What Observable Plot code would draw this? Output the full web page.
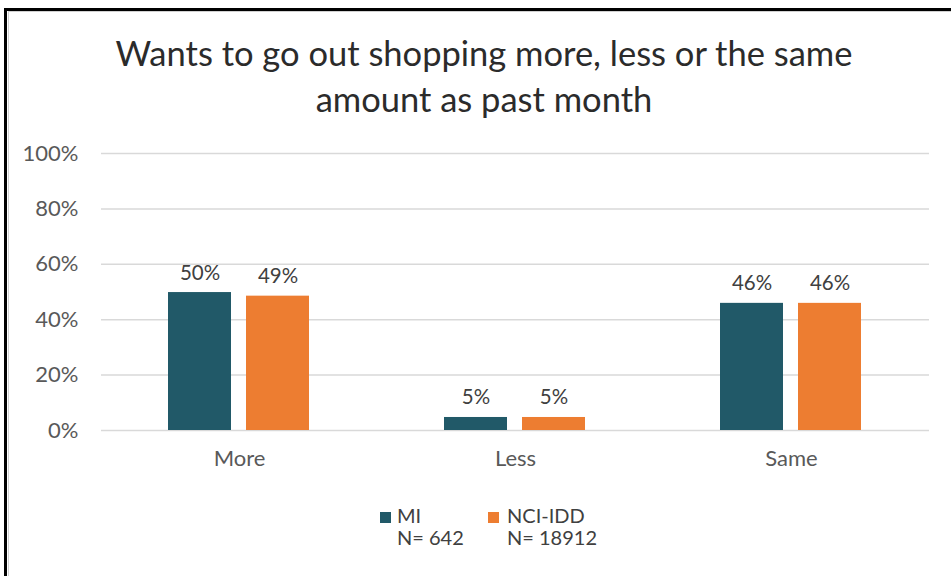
<!DOCTYPE html>
<html>
<head>
<meta charset="utf-8">
<script src="https://cdn.jsdelivr.net/npm/d3@7"></script>
<script src="https://cdn.jsdelivr.net/npm/@observablehq/plot@0.6"></script>
<style>
  html, body { margin: 0; padding: 0; background: #fff; width: 951px; height: 576px; overflow: hidden; }
  body { position: relative; font-family: Lato, "Noto Sans", sans-serif; }
  #frame-black { position: absolute; left: 4px; top: 8px; width: 960px; height: 580px; border-left: 3px solid #000; border-top: 3px solid #000; }
  #frame-gray { position: absolute; left: 8px; top: 11px; width: 960px; height: 580px; border-left: 1.5px solid #d0d0d0; border-top: 1.5px solid #d0d0d0; }
  #title { position: absolute; left: 0; top: 29.5px; width: 968px; text-align: center; font-size: 34.5px; line-height: 46px; color: #2b2b2b; }
  #chart { position: absolute; left: 0; top: 130px; }
  .leg { position: absolute; top: 504px; font-size: 20px; line-height: 22px; color: #404040; }
  .sw { position: absolute; top: 8px; width: 11px; height: 11px; }
  .lt { position: absolute; white-space: pre; }
</style>
</head>
<body>
<div id="frame-black"></div>
<div id="frame-gray"></div>
<div id="title"></div>
<div id="chart"></div>
<div id="legend"></div>
<script>
const titleLines = ["Wants to go out shopping more, less or the same", "amount as past month"];
const categories = ["More", "Less", "Same"];
const series = ["MI", "NCI-IDD"];
const seriesN = ["N= 642", "N= 18912"];
const seriesColors = ["#215968", "#ED7D31"];
const valuesMI = [49.8, 4.7, 45.9];
const valuesNCI = [48.5, 4.7, 45.9];
const yTicks = [0, 20, 40, 60, 80, 100];

const rows = [];
categories.forEach((c, i) => {
  rows.push({category: c, series: series[0], value: valuesMI[i]});
  rows.push({category: c, series: series[1], value: valuesNCI[i]});
});

document.getElementById("title").innerHTML = titleLines.join("<br>");

const chart = Plot.plot({
  width: 951,
  height: 370,
  marginTop: 23,
  marginBottom: 70,
  marginLeft: 100,
  marginRight: 21,
  style: {fontFamily: "Lato, 'Noto Sans', sans-serif", fontSize: "22px", color: "#595959", background: "transparent", overflow: "visible"},
  fx: {domain: categories, padding: 0, label: null, axis: "bottom", tickSize: 0, tickPadding: 20},
  x: {domain: series, paddingInner: 0.19, paddingOuter: 0.846, axis: null},
  y: {domain: [0, 100], ticks: yTicks, tickFormat: d => d + "%", tickSize: 0, tickPadding: 23, label: null},
  color: {domain: series, range: seriesColors},
  marks: [
    Plot.ruleY(yTicks, {stroke: "#d9d9d9", strokeWidth: 1.5}),
    Plot.barY(rows, {fx: "category", x: "series", y: "value", fill: "series", inset: 0}),
    Plot.text(rows, {fx: "category", x: "series", y: "value", text: d => Math.round(d.value) + "%", lineAnchor: "bottom", dy: -13, fontSize: 20.5, fill: "#404040"})
  ]
});
document.getElementById("chart").appendChild(chart);

const legend = document.getElementById("legend");
const legLeft = [380, 488];
const textOffset = [17, 19];
series.forEach((s, i) => {
  const item = document.createElement("div");
  item.className = "leg";
  item.style.left = legLeft[i] + "px";
  const sw = document.createElement("div");
  sw.className = "sw";
  sw.style.left = "0px";
  sw.style.background = seriesColors[i];
  const t = document.createElement("div");
  t.className = "lt";
  t.style.left = textOffset[i] + "px";
  t.textContent = s + "\n" + seriesN[i];
  item.appendChild(sw);
  item.appendChild(t);
  legend.appendChild(item);
});
</script>
</body>
</html>
